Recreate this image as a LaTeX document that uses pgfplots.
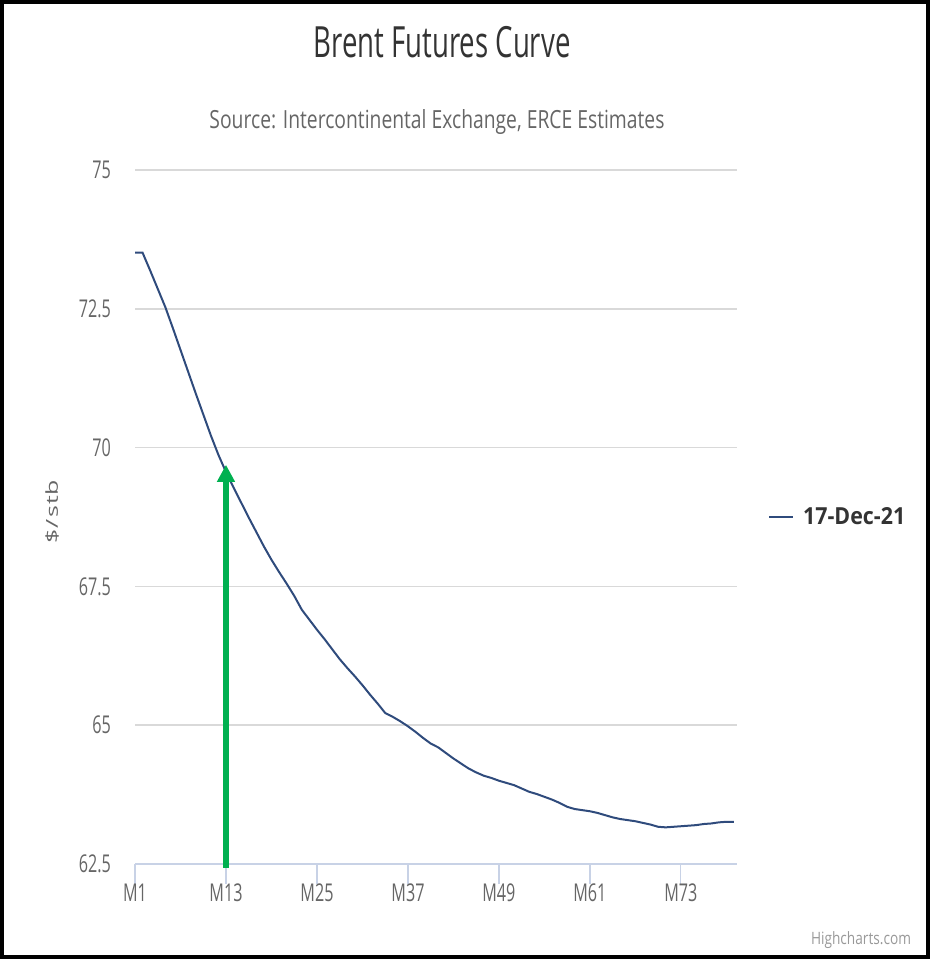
\documentclass[border=0pt]{standalone}
\usepackage{pgfplots}
\pgfplotsset{compat=1.18}
\usepackage{pgfplotstable}
\usepackage{fontspec}
\setmainfont{Open Sans}
\usetikzlibrary{arrows.meta}
\definecolor{navy}{HTML}{2F4B7C}
\definecolor{cdark}{HTML}{333333}
\definecolor{cgray}{HTML}{666666}
\definecolor{clight}{HTML}{999999}
\definecolor{gridc}{HTML}{D9D9D9}
\definecolor{axisc}{HTML}{C8D2E6}
\definecolor{agreen}{RGB}{0,176,80}
\newcommand\sq[1]{\scalebox{0.66}[1]{#1}}
\newcommand\tkfont{\fontsize{24.5}{28}\selectfont}

\pgfplotstableread{
m v
0 73.51
1 73.51
2 73.19
3 72.86
4 72.53
5 72.15
6 71.76
7 71.37
8 70.98
9 70.60
10 70.22
11 69.87
12 69.56
13 69.28
14 69.01
15 68.74
16 68.48
17 68.22
18 67.98
19 67.76
20 67.55
21 67.33
22 67.08
23 66.90
24 66.72
25 66.55
26 66.37
27 66.19
28 66.03
29 65.88
30 65.72
31 65.55
32 65.39
33 65.22
34 65.15
35 65.07
36 64.98
37 64.88
38 64.77
39 64.67
40 64.60
41 64.50
42 64.40
43 64.31
44 64.22
45 64.15
46 64.09
47 64.05
48 64.00
49 63.96
50 63.92
51 63.86
52 63.80
53 63.76
54 63.71
55 63.66
56 63.60
57 63.53
58 63.49
59 63.47
60 63.45
61 63.42
62 63.38
63 63.34
64 63.31
65 63.29
66 63.27
67 63.24
68 63.21
69 63.17
70 63.16
71 63.17
72 63.18
73 63.19
74 63.20
75 63.22
76 63.23
77 63.25
78 63.26
79 63.26
}\brent

\begin{document}
\begin{tikzpicture}
\useasboundingbox (0pt,0pt) rectangle (932pt,959pt);
\draw[line width=4pt] (2pt,2pt) rectangle (928pt,957pt);
\node[anchor=base, text=cdark, inner sep=0pt] at (442pt,901.7pt)
  {\fontsize{43}{50}\selectfont\resizebox{257pt}{\height}{Brent Futures Curve}};
\node[anchor=base, text=cgray, inner sep=0pt] at (437pt,830.7pt)
  {\fontsize{25}{30}\selectfont\resizebox{455pt}{\height}{Source: Intercontinental Exchange, ERCE Estimates}};
\node[text=cgray, inner sep=0pt] at (52pt,447pt)
  {\rotatebox{90}{\fontsize{24}{28}\selectfont\resizebox{64pt}{12.5pt}{\$\kern1.5pt/\kern1.5pt s\kern0.8pt t\kern0.8pt b}}};
\node[text=clight, inner sep=0pt] at (861pt,19pt)
  {\fontsize{17}{20}\selectfont\resizebox{100pt}{\height}{Highcharts.com}};
\begin{axis}[
  at={(135pt,95pt)}, anchor=south west,
  scale only axis, width=602pt, height=694pt,
  xmin=0, xmax=79.4, ymin=62.5, ymax=75,
  clip=false,
  axis x line*=bottom, axis y line*=left,
  x axis line style={draw=axisc, line width=1.5pt, -},
  y axis line style={draw=none, -},
  xtick={0,12,...,72},
  xticklabels={\sq{M1},\sq{M13},\sq{M25},\sq{M37},\sq{M49},\sq{M61},\sq{M73}},
  ytick={62.5,65,67.5,70,72.5,75},
  yticklabels={\sq{62.5},\sq{65},\sq{67.5},\sq{70},\sq{72.5},\sq{75}},
  xtick align=outside, major tick length=20pt,
  xtick style={draw=axisc, line width=1.2pt},
  ytick style={draw=none},
  xticklabel style={font=\tkfont, text=cgray, anchor=north, inner sep=0pt},
  yticklabel style={font=\tkfont, text=cgray, anchor=east, inner sep=0pt, xshift=-24pt},
  ymajorgrids, grid style={draw=gridc, line width=1.5pt},
  legend style={at={(1.0515,0.5)}, anchor=west, draw=none, fill=none,
    inner sep=0pt, nodes={inner sep=0pt, text=cdark}},
  legend image code/.code={\draw[#1] (0pt,0pt) -- (24pt,0pt);},
  /tikz/every odd column/.append style={column sep=9pt},
]
\addplot[navy, line width=2pt] table[x=m, y=v] {\brent};
\addlegendentry{\fontsize{23.5}{26}\selectfont\bfseries\resizebox{102pt}{\height}{17-Dec-21}}
\addplot[agreen, line width=5.5pt, -{Triangle[width=17pt,length=17pt]}, forget plot]
  coordinates {(12,62.43) (12,69.69)};
\end{axis}
\end{tikzpicture}
\end{document}
